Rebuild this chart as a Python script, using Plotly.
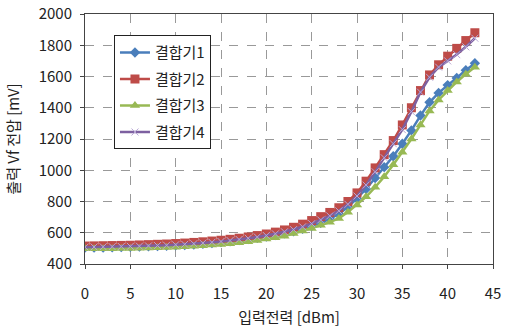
import plotly.graph_objects as go

x_dbm = list(range(0, 44))

s1_blue = [505, 505, 506, 507, 508, 510, 511, 513, 515, 517, 520, 522, 525, 529, 534, 540,
           546, 553, 560, 567, 575, 585, 597, 610, 625, 643, 663, 688, 720, 765,
           820, 880, 950, 1020, 1090, 1170, 1255, 1350, 1435, 1495, 1545, 1590, 1640, 1685]
s2_red = [515, 516, 517, 518, 519, 520, 522, 524, 526, 528, 531, 534, 538, 542, 547, 552,
          558, 565, 573, 582, 592, 604, 618, 635, 655, 678, 703, 730, 760, 800,
          855, 930, 1015, 1100, 1190, 1290, 1400, 1510, 1610, 1675, 1730, 1780, 1830, 1880]
s3_green = [497, 497, 498, 498, 499, 500, 501, 502, 504, 506, 508, 511, 514, 517, 521, 525,
            530, 536, 543, 551, 560, 568, 578, 595, 612, 628, 648, 668, 692, 732,
            778, 830, 892, 958, 1035, 1115, 1200, 1290, 1380, 1450, 1510, 1565, 1615, 1660]
s4_purple = [508, 509, 510, 511, 512, 513, 514, 516, 518, 520, 523, 526, 530, 534, 539, 544,
             550, 557, 565, 573, 582, 593, 606, 620, 638, 658, 682, 708, 740, 782,
             835, 905, 990, 1080, 1170, 1260, 1375, 1500, 1595, 1660, 1700, 1740, 1790, 1845]

names = ["결합기1", "결합기2", "결합기3", "결합기4"]
colors = ["#4A7EBB", "#BE4B48", "#98B954", "#7D60A0"]
symbols = ["diamond", "square", "triangle-up", "x-thin"]
sizes = [8, 9, 9, 7]
series = [s1_blue, s2_red, s3_green, s4_purple]

FONT = "Noto Sans CJK KR"

fig = go.Figure()
for i, (name, col, sym, sz, ys) in enumerate(zip(names, colors, symbols, sizes, series)):
    marker = dict(symbol=sym, size=sz, color=col)
    if sym == "x-thin":
        marker["line"] = dict(color="#B9A8D6", width=1)
    fig.add_trace(go.Scatter(x=x_dbm, y=ys, mode="lines+markers", name=name,
                             legendgroup="g%d" % i,
                             line=dict(color=col, width=2.5), marker=marker))

fig.update_layout(
    width=507, height=327,
    margin=dict(l=85, r=14, t=14, b=63, autoexpand=False),
    paper_bgcolor="white", plot_bgcolor="white",
    font=dict(family=FONT, size=15, color="#222222"),
    showlegend=True,
    legend=dict(x=0.071, y=0.915, xanchor="left", yanchor="top",
                bgcolor="white", bordercolor="#222222", borderwidth=1,
                font=dict(family=FONT, size=15, color="#222222"),
                tracegroupgap=4, itemwidth=30),
)
fig.update_xaxes(range=[0, 45], dtick=5, tick0=0, automargin=False,
                 ticklabeloverflow="allow", ticklabelstandoff=12,
                 showgrid=True, gridcolor="#999999", griddash="dash", gridwidth=1,
                 showline=True, linecolor="#444444", linewidth=1, mirror=True,
                 ticks="outside", ticklen=4, tickcolor="#444444",
                 zeroline=False, tickfont=dict(size=15),
                 title=dict(text="입력전력 [dBm]", font=dict(family=FONT, size=15)))
fig.update_yaxes(range=[400, 2000], dtick=200, tick0=400, automargin=False,
                 ticklabeloverflow="allow", ticklabelstandoff=5,
                 showgrid=True, gridcolor="#999999", griddash="dash", gridwidth=1,
                 showline=True, linecolor="#444444", linewidth=1, mirror=True,
                 ticks="outside", ticklen=4, tickcolor="#444444",
                 zeroline=False, tickfont=dict(size=15),
                 title=dict(text="출력 Vf 전압 [mV]", font=dict(family=FONT, size=15)))

# remove the default page margin so the figure fills the window exactly
fig.write_html("out.html", config={"displayModeBar": False},
               post_script="document.body.style.margin='0';")
